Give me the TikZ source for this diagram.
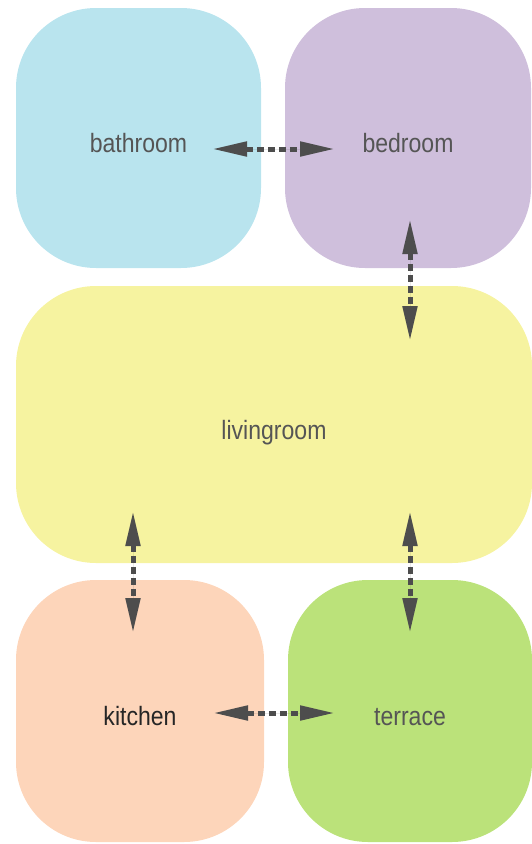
\documentclass[tikz,border=0pt]{standalone}
\usepackage{fontspec}
\setmainfont{Liberation Sans}
\newfontfamily\roomfont[FakeStretch=0.87]{Liberation Sans}
\usetikzlibrary{arrows.meta}
\definecolor{bath}{RGB}{185,228,238}
\definecolor{bed}{RGB}{207,191,220}
\definecolor{living}{RGB}{246,243,160}
\definecolor{kitch}{RGB}{253,213,186}
\definecolor{terr}{RGB}{187,226,122}
\definecolor{ink}{HTML}{4D4D4D}
\definecolor{label}{HTML}{555555}
\tikzset{
  room/.style={rectangle, rounded corners=80pt, inner sep=0pt,
               text height=29pt, text depth=0pt, text=label,
               font=\roomfont\fontsize{26.5}{26.5}\selectfont},
  link/.style={{Triangle[length=35pt,width=14pt]}-{Triangle[length=35pt,width=14pt]},
               draw=ink, fill=ink, line width=5pt, dash pattern=on 7pt off 4pt},
}
\begin{document}
\begin{tikzpicture}[x=1pt,y=-1pt]
  \useasboundingbox (0,0) rectangle (531,844);

  \node[room, fill=bath,   minimum width=245pt, minimum height=260pt] (bathroom)   at (138.5,138) {bathroom};
  \node[room, fill=bed,    minimum width=246pt, minimum height=260pt] (bedroom)    at (408,138)   {bedroom};
  \node[room, fill=living, minimum width=516pt, minimum height=277pt] (livingroom) at (274,424.5) {livingroom};
  \node[room, fill=kitch,  minimum width=248pt, minimum height=262pt, text=black!85] (kitchen) at (140,711) {kitchen};
  \node[room, fill=terr,   minimum width=244pt, minimum height=262pt] (terrace)    at (410,711) {terrace};

  % arrow ends
  \coordinate (bathE)  at (212,149);
  \coordinate (bedW)   at (335,149);
  \coordinate (bedS)   at (410,219);
  \coordinate (livN)   at (410,341);
  \coordinate (livSW)  at (133,511);
  \coordinate (livSE)  at (410,511);
  \coordinate (kitN)   at (133,633);
  \coordinate (terN)   at (410,633);
  \coordinate (kitE)   at (213,713);
  \coordinate (terW)   at (335,713);

  \foreach \a/\b in {bathE/bedW, bedS/livN, livSW/kitN, livSE/terN, kitE/terW}
    \draw[link] (\a) -- (\b);
\end{tikzpicture}
\end{document}
